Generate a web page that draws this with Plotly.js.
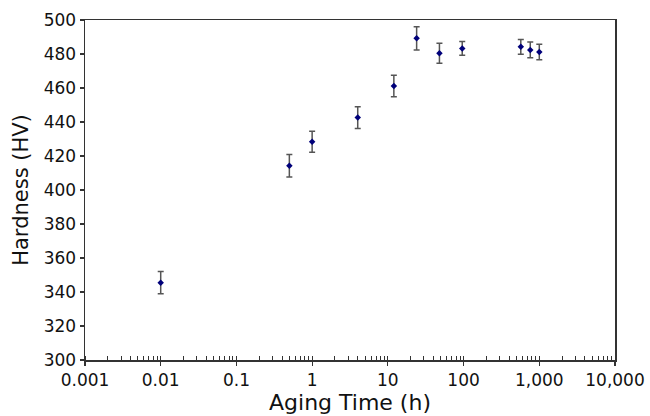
<!DOCTYPE html>
<html>
<head>
<meta charset="utf-8">
<script src="https://cdn.plot.ly/plotly-3.0.1.min.js"></script>
<style>html,body{margin:0;padding:0;background:#fff;}#chart{width:650px;height:416px;}</style>
</head>
<body>
<div id="chart"></div>
<script>
// Aging time (h)
var agingTime = [0.01, 0.5, 1, 4, 12, 24, 48, 96, 570, 760, 1000];
// Hardness (HV)
var hardness = [345.5, 414.3, 428.4, 442.6, 461.2, 489.2, 480.4, 483.3, 484.2, 482.4, 481.2];
// Error bar half-widths (HV)
var hardnessErr = [6.6, 6.6, 6.2, 6.4, 6.3, 6.9, 5.9, 4.0, 4.3, 4.6, 4.6];
// Axis ticks
var xTickVals = [0.001, 0.01, 0.1, 1, 10, 100, 1000, 10000];
var xTickText = ["0.001", "0.01", "0.1", "1", "10", "100", "1,000", "10,000"];
var yTickVals = [300, 320, 340, 360, 380, 400, 420, 440, 460, 480, 500];

var trace = {
  x: agingTime,
  y: hardness,
  type: 'scatter',
  mode: 'markers',
  marker: {color: '#00007a', size: 5, symbol: 'diamond'},
  error_y: {type: 'data', array: hardnessErr, visible: true, color: '#555555', thickness: 1.5, width: 3},
  showlegend: false,
  hoverinfo: 'x+y'
};

var fontFam = '"DejaVu Sans", Arial, sans-serif';
var layout = {
  width: 650, height: 416,
  margin: {l: 85, r: 35, t: 20, b: 56},
  paper_bgcolor: '#ffffff',
  plot_bgcolor: '#ffffff',
  font: {family: fontFam, color: '#111111', size: 17},
  xaxis: {
    type: 'log',
    range: [-3, 4],
    tickmode: 'array',
    tickvals: xTickVals,
    ticktext: xTickText,
    ticks: 'outside',
    ticklen: 4,
    tickwidth: 1.2,
    tickcolor: '#333333',
    showline: true,
    linecolor: '#333333',
    linewidth: 1.5,
    mirror: true,
    showgrid: false,
    zeroline: false,
    tickfont: {size: 17, family: fontFam, color: '#111111'},
    minor: {dtick: 'D1', ticks: 'inside', ticklen: 4, tickwidth: 1, tickcolor: '#333333', showgrid: false},
    title: {text: 'Aging Time (h)', font: {size: 22, family: fontFam, color: '#111111'}, standoff: 1}
  },
  yaxis: {
    range: [300, 500],
    tickmode: 'array',
    tickvals: yTickVals,
    ticks: 'outside',
    ticklen: 4,
    tickwidth: 1.2,
    tickcolor: '#333333',
    showline: true,
    linecolor: '#333333',
    linewidth: 1.5,
    mirror: true,
    showgrid: false,
    zeroline: false,
    tickfont: {size: 17, family: fontFam, color: '#111111'},
    title: {text: 'Hardness (HV)', font: {size: 21, family: fontFam, color: '#111111'}, standoff: 9}
  }
};

Plotly.newPlot('chart', [trace], layout, {displayModeBar: false, staticPlot: true});
</script>
</body>
</html>
